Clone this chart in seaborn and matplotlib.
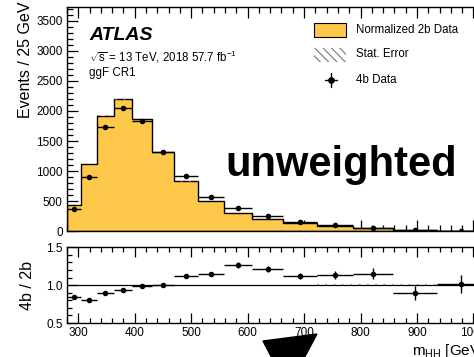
import numpy as np
import pandas as pd
import matplotlib
matplotlib.use("Agg")
import matplotlib.pyplot as plt
from matplotlib.patches import Rectangle, Polygon
from matplotlib.lines import Line2D
from matplotlib.ticker import MultipleLocator, FormatStrFormatter
import seaborn as sns

# m_HH binning (GeV)
bin_edges = [280.0, 305.2, 332.7, 362.6, 395.2, 430.8, 469.6, 511.8, 557.9,
             608.1, 662.8, 722.5, 787.5, 858.4, 935.6, 1019.8]
# normalized 2b data (events / 25 GeV) and its statistical error
data_2b = [435, 1124, 1922, 2193, 1863, 1317, 831, 501, 309, 210, 144, 88, 50, 18, 12]
err_2b = [2, 3, 4, 4, 4, 3, 3, 2, 2, 1.5, 1.2, 0.9, 0.6, 0.25, 0.18]
# 4b data and its statistical error
data_4b = [366, 910, 1733, 2052, 1836, 1318, 928, 576, 393, 256, 161, 100, 57.5, 16.2, 12.2]
err_4b = [9, 17, 26, 29, 27, 22, 19, 15, 12, 8.5, 6, 4.5, 3.5, 1.7, 1.4]

edges = np.array(bin_edges)
h2b = np.array(data_2b, dtype=float)
e2b = np.array(err_2b, dtype=float)
h4b = np.array(data_4b, dtype=float)
e4b = np.array(err_4b, dtype=float)
centers = 0.5 * (edges[:-1] + edges[1:])
half_w = 0.5 * (edges[1:] - edges[:-1])
ratio = h4b / h2b
ratio_err = e4b / h2b
band_rel = e2b / h2b

df = pd.DataFrame({"mhh": centers, "n2b": h2b, "n4b": h4b, "ratio": ratio})

sns.set_style("ticks")
plt.rcParams["font.family"] = ["Liberation Sans", "DejaVu Sans"]
plt.rcParams["mathtext.fontset"] = "custom"
plt.rcParams["mathtext.rm"] = "Liberation Sans"
plt.rcParams["mathtext.it"] = "Liberation Sans:italic"
plt.rcParams["mathtext.bf"] = "Liberation Sans:bold"
plt.rcParams["hatch.linewidth"] = 0.8
for key in ("text.color", "axes.labelcolor", "xtick.color", "ytick.color",
            "axes.edgecolor"):
    plt.rcParams[key] = "black"

W, H = 474, 357
fig = plt.figure(figsize=(W / 100, H / 100), dpi=100)
fig.patch.set_facecolor("white")


def fx(px):
    return px / W


def fy(py):
    return 1 - py / H


x0, x1 = 67.0, 484.7
ax = fig.add_axes([fx(x0), fy(231.4), fx(x1 - x0), (231.4 - 7.3) / H])
rax = fig.add_axes([fx(x0), fy(323.0), fx(x1 - x0), (323.0 - 247.3) / H])

yellow = "#fec94b"

# normalized 2b histogram
sns.histplot(data=df, x="mhh", weights="n2b", bins=list(bin_edges), element="step",
             fill=True, color=yellow, edgecolor="black", linewidth=1.0, alpha=1.0, ax=ax)
# stat. error band on the 2b histogram
ax.fill_between(edges, np.append(h2b - e2b, h2b[-1] - e2b[-1]),
                np.append(h2b + e2b, h2b[-1] + e2b[-1]), step="post",
                facecolor="none", edgecolor="#777777", hatch="\\\\\\\\", linewidth=0)
# 4b data points
ax.errorbar(centers, h4b, xerr=half_w, yerr=e4b, fmt="none", ecolor="black",
            elinewidth=1.0, capsize=0, zorder=5)
sns.scatterplot(data=df, x="mhh", y="n4b", color="black", s=16, linewidth=0, ax=ax,
                zorder=6)

ax.set_xlim(280, 1020)
ax.set_ylim(0, 3722)
ax.set_xlabel("")
ax.set_ylabel("")

# ratio panel
rax.fill_between(edges, np.append(1 - band_rel, 1 - band_rel[-1]),
                 np.append(1 + band_rel, 1 + band_rel[-1]), step="post",
                 facecolor="none", edgecolor="#888888", hatch="\\\\\\\\", linewidth=0)
rax.axhline(1.0, color="black", linewidth=0.9)
rax.errorbar(centers, ratio, xerr=half_w, yerr=ratio_err, fmt="none", ecolor="black",
             elinewidth=1.0, capsize=0, zorder=5)
sns.scatterplot(data=df, x="mhh", y="ratio", color="black", s=16, linewidth=0, ax=rax,
                zorder=6)
rax.set_xlim(280, 1020)
rax.set_ylim(0.5, 1.5)
rax.set_xlabel("")
rax.set_ylabel("")

for a in (ax, rax):
    a.xaxis.set_major_locator(MultipleLocator(100))
    a.xaxis.set_minor_locator(MultipleLocator(20))
    a.tick_params(which="both", direction="in", top=True, right=True,
                  labelsize=8.5, pad=3, width=0.9, color="black", labelcolor="black")
    for s in a.spines.values():
        s.set_linewidth(1.0)
        s.set_color("black")
ax.tick_params(which="major", length=8)
ax.tick_params(which="minor", length=4)
rax.tick_params(which="major", length=7)
rax.tick_params(which="minor", length=3.5)
ax.yaxis.set_major_locator(MultipleLocator(500))
ax.yaxis.set_minor_locator(MultipleLocator(100))
ax.tick_params(axis="x", labelbottom=False)
rax.yaxis.set_major_locator(MultipleLocator(0.5))
rax.yaxis.set_minor_locator(MultipleLocator(0.1))
rax.yaxis.set_major_formatter(FormatStrFormatter("%.1f"))

# axis titles
fig.text(fx(26), fy(2), "Events / 25 GeV", rotation=90, ha="center", va="top",
         fontsize=11.5)
fig.text(fx(27), fy(286), "4b / 2b", rotation=90, ha="center", va="center",
         fontsize=11.5)
fig.text(fx(412.5), fy(355), r"m$_{\mathregular{HH}}$ [GeV]", ha="left",
         va="baseline", fontsize=11)

# labels
fig.text(fx(89), fy(36), "ATLAS", fontsize=14, fontweight="bold", fontstyle="italic",
         ha="left", va="center")
fig.text(fx(89), fy(57), r"$\sqrt{\mathregular{s}}$ = 13 TeV, 2018 57.7 fb$^{-1}$",
         fontsize=8.3, ha="left", va="center")
fig.text(fx(89), fy(73), "ggF CR1", fontsize=8.3, ha="left", va="center")

# legend
fig.patches.append(Rectangle((fx(314), fy(36.7)), fx(32), 14 / H,
                             transform=fig.transFigure, facecolor=yellow,
                             edgecolor="black", linewidth=0.8))
fig.patches.append(Rectangle((fx(314), fy(62)), fx(32), 14 / H,
                             transform=fig.transFigure, facecolor="white",
                             edgecolor="#777777", hatch="\\\\\\\\", linewidth=0))
fig.lines.append(Line2D([fx(325), fx(337)], [fy(80), fy(80)], transform=fig.transFigure,
                        color="black", linewidth=1.0))
fig.lines.append(Line2D([fx(331), fx(331)], [fy(73), fy(87)], transform=fig.transFigure,
                        color="black", linewidth=1.0))
fig.lines.append(Line2D([fx(331)], [fy(80)], transform=fig.transFigure, color="black",
                        marker="o", markersize=3.8, linewidth=0))
fig.text(fx(356), fy(30), "Normalized 2b Data", fontsize=8.3, ha="left", va="center")
fig.text(fx(356), fy(54), "Stat. Error", fontsize=8.3, ha="left", va="center")
fig.text(fx(356), fy(80), "4b Data", fontsize=8.3, ha="left", va="center")

# overlay annotation
fig.text(fx(341.5), fy(175.7), "unweighted", fontsize=30, fontweight="bold",
         ha="center", va="baseline", color="black")
fig.patches.append(Polygon([(fx(263), fy(341)), (fx(317), fy(334)), (fx(302), fy(362)),
                            (fx(274), fy(362))], closed=True, transform=fig.transFigure,
                           facecolor="black", edgecolor="black"))

fig.savefig("out.png", dpi=100, facecolor="white")
